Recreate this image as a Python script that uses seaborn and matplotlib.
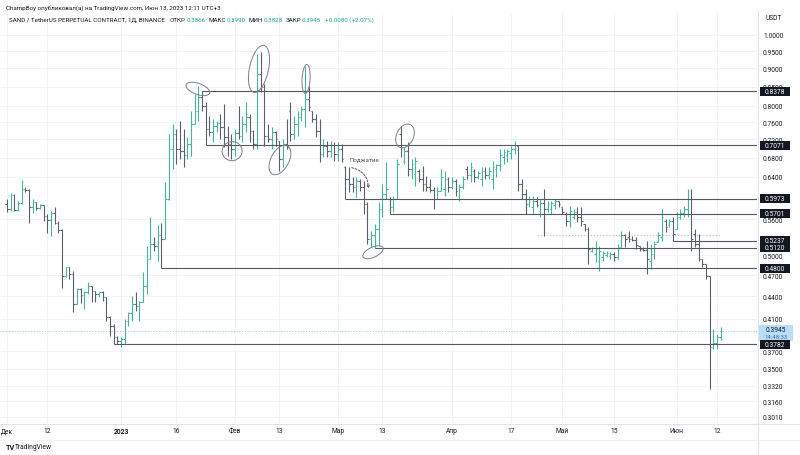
import pandas as pd
import matplotlib
matplotlib.use("Agg")
import matplotlib.pyplot as plt
import matplotlib.dates as mdates
import matplotlib.patches as mpatches
import matplotlib.transforms as mtransforms
import matplotlib.ticker as mticker
from matplotlib.lines import Line2D
import seaborn as sns

# ── DATA: SAND/USDT daily bars, 1 Dec 2022 → 13 Jun 2023 ──────────────
start_date = "2022-12-01"

open_ = [
    .588, .579, .605, .577, .590, .616, .614, .582, .592, .581,
    .586, .566, .559, .572, .554, .542, .469, .482, .472, .429,
    .450, .442, .446, .454, .447, .443, .446, .439, .412, .401,
    .387, .382, .384, .407, .417, .429, .427, .432, .454, .494,
    .518, .515, .533, .527, .597, .699, .733, .699, .694, .686,
    .710, .756, .788, .823, .800, .744, .737, .751, .758, .749,
    .726, .710, .699, .735, .728, .756, .773, .740, .710, .885,
    .849, .728, .721, .737, .717, .677, .710, .788, .733, .756,
    .773, .792, .818, .788, .768, .740, .688, .705, .694, .707,
    .688, .699, .660, .636, .626, .620, .632, .620, .588, .527,
    .533, .543, .579, .607, .597, .582, .597, .733, .673, .694,
    .656, .646, .652, .636, .626, .620, .614, .597, .612, .616,
    .636, .620, .632, .603, .620, .656, .644, .652, .640, .636,
    .652, .644, .636, .656, .664, .682, .686, .690, .699, .705,
    .626, .607, .588, .582, .593, .575, .590, .579, .579, .586,
    .593, .582, .570, .557, .565, .573, .565, .552, .543, .507,
    .502, .491, .498, .501, .499, .502, .498, .513, .533, .530,
    .527, .525, .515, .510, .508, .491, .502, .522, .530, .557,
    .550, .557, .543, .565, .572, .579, .597, .535, .518, .494,
    .487, .469, .375, .380, .3866]

high = [
    .597, .609, .607, .593, .634, .620, .616, .597, .592, .588,
    .586, .570, .575, .582, .557, .543, .482, .482, .476, .452,
    .452, .447, .460, .454, .447, .446, .447, .439, .413, .403,
    .388, .387, .409, .418, .440, .446, .433, .475, .515, .565,
    .530, .550, .554, .630, .733, .756, .744, .763, .744, .726,
    .788, .831, .852, .8378, .810, .775, .768, .763, .780, .805,
    .751, .733, .744, .800, .775, .810, .780, .742, .942, .948,
    .857, .756, .749, .740, .717, .721, .768, .810, .775, .788,
    .800, .907, .852, .788, .780, .768, .721, .717, .717, .714,
    .714, .710, .662, .660, .640, .640, .636, .632, .592, .540,
    .552, .592, .626, .671, .601, .603, .677, .751, .703, .714,
    .677, .682, .656, .662, .642, .636, .620, .620, .656, .652,
    .640, .640, .636, .626, .642, .662, .671, .656, .652, .660,
    .660, .660, .673, .667, .699, .699, .699, .705, .717, .707,
    .636, .616, .603, .603, .601, .597, .616, .593, .593, .597,
    .593, .582, .573, .584, .579, .582, .582, .552, .547, .513,
    .523, .515, .507, .507, .505, .505, .518, .540, .535, .540,
    .532, .530, .515, .513, .523, .518, .523, .538, .579, .561,
    .561, .565, .573, .579, .584, .616, .616, .543, .535, .494,
    .487, .469, .397, .391, .3990]

low = [
    .573, .575, .575, .575, .588, .610, .554, .572, .577, .579,
    .557, .537, .532, .552, .537, .452, .467, .464, .418, .429,
    .431, .423, .443, .432, .432, .439, .433, .407, .388, .378,
    .3782, .375, .378, .401, .407, .420, .407, .432, .443, .494,
    .507, .491, .480, .527, .595, .656, .667, .677, .660, .677,
    .684, .756, .763, .788, .7071, .728, .714, .737, .721, .703,
    .684, .677, .684, .721, .714, .737, .714, .699, .699, .836,
    .705, .714, .699, .705, .652, .660, .699, .717, .721, .728,
    .763, .749, .788, .761, .726, .671, .682, .682, .682, .673,
    .673, .671, .5973, .610, .610, .601, .612, .570, .518, .513,
    .512, .515, .565, .597, .5701, .573, .597, .682, .667, .642,
    .636, .622, .630, .612, .612, .610, .579, .597, .612, .603,
    .610, .616, .603, .593, .616, .636, .630, .630, .636, .622,
    .636, .636, .616, .640, .652, .667, .671, .677, .688, .612,
    .597, .570, .582, .570, .582, .565, .532, .573, .570, .579,
    .582, .570, .549, .547, .561, .556, .549, .540, .487, .505,
    .490, .476, .491, .498, .494, .491, .494, .513, .513, .522,
    .523, .510, .507, .507, .472, .479, .494, .522, .523, .538,
    .547, .5237, .543, .561, .565, .565, .507, .513, .491, .482,
    .464, .3285, .373, .373, .3828]

close = [
    .579, .605, .577, .590, .616, .614, .582, .592, .581, .586,
    .566, .559, .572, .554, .542, .469, .482, .472, .429, .450,
    .442, .446, .454, .447, .443, .446, .439, .412, .401, .387,
    .382, .384, .407, .417, .429, .427, .432, .454, .494, .518,
    .515, .533, .527, .597, .699, .733, .699, .694, .686, .710,
    .756, .788, .823, .800, .744, .737, .751, .758, .749, .726,
    .710, .699, .735, .728, .756, .773, .740, .710, .885, .849,
    .728, .721, .737, .721, .677, .710, .703, .733, .756, .773,
    .792, .818, .798, .768, .740, .688, .705, .694, .707, .688,
    .699, .677, .636, .626, .620, .632, .620, .588, .527, .533,
    .543, .579, .607, .616, .582, .597, .667, .703, .694, .656,
    .667, .673, .636, .626, .620, .614, .597, .612, .640, .636,
    .620, .632, .612, .620, .636, .644, .660, .640, .648, .652,
    .644, .652, .660, .664, .686, .692, .694, .699, .707, .626,
    .607, .588, .597, .593, .586, .590, .579, .588, .590, .593,
    .588, .573, .557, .575, .573, .565, .557, .543, .510, .512,
    .510, .507, .504, .504, .502, .498, .513, .533, .527, .527,
    .525, .517, .510, .508, .494, .502, .518, .533, .565, .547,
    .557, .535, .565, .572, .579, .597, .527, .518, .494, .487,
    .469, .375, .380, .3866, .3945]

# drawn levels: price and the day they start from
levels = [0.8378, 0.7071, 0.5973, 0.5701, 0.5237, 0.5120, 0.4800, 0.3782]
level_start = ["2023-01-23", "2023-01-24", "2023-03-03", "2023-03-15",
               "2023-05-31", "2023-03-11", "2023-01-12", "2022-12-30"]
dotted_level = 0.533
dotted_span = ["2023-04-24", "2023-06-13"]

# ticks hidden behind the level labels (0.60, 0.53, 0.39) are left out
price_ticks = [1.0, 0.95, 0.9, 0.85, 0.8, 0.76, 0.72, 0.68, 0.64, 0.56,
               0.5, 0.47, 0.44, 0.41, 0.37, 0.35, 0.332, 0.316, 0.301]
date_ticks = ["2022-12-01", "2022-12-12", "2023-01-01", "2023-01-16", "2023-02-01",
              "2023-02-13", "2023-03-01", "2023-03-13", "2023-04-01", "2023-04-17",
              "2023-05-01", "2023-05-15", "2023-06-01", "2023-06-12"]
date_labels = ["Дек", "12", "2023", "16", "Фев", "13", "Мар", "13", "Апр", "17",
               "Май", "15", "Июн", "12"]

# ── STYLE ─────────────────────────────────────────────────────────────
sns.set_theme(style="white")
plt.rcParams["font.family"] = ["Roboto", "DejaVu Sans"]

UP = "#45b49c"
DOWN = "#5b5f6a"
LEVEL = "#55585f"
TXT = "#131722"
TEAL = "#22a88f"
FS = 4.8
HFS = 4.5

W, H = 800, 456
fig = plt.figure(figsize=(W / 100, H / 100), dpi=100)
fig.patch.set_facecolor("white")
ax = fig.add_axes([0, 32 / H, 757 / W, 410 / H])
ax.set_facecolor("white")

dates = pd.date_range(start_date, periods=len(close), freq="D")
x = mdates.date2num(dates)
x0 = x[0]

ax.set_yscale("log")
ax.set_ylim(0.2952, 1.0716)
ax.set_xlim(x0 - 1.89, x0 + 203.87)

# ── OHLC BARS ─────────────────────────────────────────────────────────
cols = [UP if c >= o else DOWN for o, c in zip(open_, close)]
ax.vlines(x, low, high, colors=cols, linewidth=0.8, zorder=3)
ax.hlines(open_, x - 0.45, x, colors=cols, linewidth=0.8, zorder=3)
ax.hlines(close, x, x + 0.45, colors=cols, linewidth=0.8, zorder=3)

# ── LEVELS ────────────────────────────────────────────────────────────
xr = ax.get_xlim()[1]
for lvl, d in zip(levels, level_start):
    ax.hlines(lvl, mdates.date2num(pd.Timestamp(d)), xr, color=LEVEL,
              linewidth=0.8, zorder=4)
ax.hlines(dotted_level, mdates.date2num(pd.Timestamp(dotted_span[0])),
          mdates.date2num(pd.Timestamp(dotted_span[1])), color="#c3c5cb",
          linewidth=0.9, linestyles=(0, (1, 1.5)), zorder=2)
ax.axhline(close[-1], color="#9ccaf2", linewidth=0.8, linestyle=(0, (1, 1.5)), zorder=2)

# ── AXES ──────────────────────────────────────────────────────────────
ax.yaxis.tick_right()
ax.set_yticks(price_ticks)
ax.yaxis.set_major_formatter(mticker.FuncFormatter(lambda v, _: f"{v:.4f}"))
ax.yaxis.set_minor_locator(mticker.NullLocator())
ax.set_xticks([mdates.date2num(pd.Timestamp(d)) for d in date_ticks])
ax.set_xticklabels(date_labels)
ax.xaxis.get_ticklabels()[2].set_fontweight("bold")
ax.tick_params(axis="y", length=0, pad=4.3, labelsize=FS, colors=TXT)
ax.tick_params(axis="x", length=0, pad=3.2, labelsize=FS, colors=TXT)
ax.grid(True, color="#f2f3f7", linewidth=0.7)
ax.set_axisbelow(True)
for s in ["left", "top", "right", "bottom"]:
    ax.spines[s].set_visible(False)

fig.add_artist(Line2D([757.5 / W] * 2, [1 - 12 / H, 0.0], color="#e0e3eb", lw=0.8))
fig.add_artist(Line2D([0, 1], [1 - 424.5 / H] * 2, color="#e0e3eb", lw=0.8))
fig.add_artist(Line2D([0, 1], [1 - 440.5 / H] * 2, color="#eef0f4", lw=0.6))


def px(xv, yv):
    return ax.transData.transform((xv, yv))


# ── PRICE LABELS ON THE AXIS ──────────────────────────────────────────
cy = px(x0, close[-1])[1]
fig.add_artist(mpatches.Rectangle((759, cy - 10), 34, 16, facecolor="#b9dcf7",
                                  edgecolor="none", transform=mtransforms.IdentityTransform(),
                                  zorder=2.0))
fig.text(776 / W, (cy + 1) / H, f"{close[-1]:.4f}", ha="center", va="center",
         fontsize=FS, color=TXT, zorder=2.1)
fig.text(776 / W, (cy - 5.5) / H, "14:48:33", ha="center", va="center",
         fontsize=4.3, color="#3d6fa8", zorder=2.1)

for lvl in levels:
    ly = px(x0, lvl)[1]
    fig.add_artist(mpatches.Rectangle((760, ly - 4.5), 30, 9, facecolor=TXT,
                                      edgecolor="none",
                                      transform=mtransforms.IdentityTransform(),
                                      zorder=2.2))
    fig.text(775 / W, ly / H, f"{lvl:.4f}", ha="center", va="center",
             fontsize=FS, color="white", zorder=2.3)

fig.text(765 / W, 1 - 19 / H, "USDT", ha="left", va="center", fontsize=FS, color=TXT)

# ── HAND-DRAWN MARKUP ─────────────────────────────────────────────────
rings = [  # (day offset, price, width px, height px, angle)
    (51.9, 0.844, 25, 11, -20),
    (68.5, 0.899, 19, 48, -12),
    (81.3, 0.871, 8, 29, -3),
    (61.2, 0.694, 20, 19, 10),
    (74.2, 0.675, 18, 32, -28),
    (108.2, 0.728, 17, 25, -25),
    (99.5, 0.505, 22, 10, 25),
]
for d, p, w, h, a in rings:
    cxp, cyp = px(x0 + d, p)
    fig.add_artist(mpatches.Ellipse((cxp, cyp), w, h, angle=a, fill=False,
                                    edgecolor="#7c7f89", linewidth=0.7,
                                    transform=mtransforms.IdentityTransform(),
                                    zorder=5))

pa = px(x0 + 93.0, 0.660)
pb = px(x0 + 98.2, 0.612)
fig.add_artist(mpatches.FancyArrowPatch(pa, pb, connectionstyle="arc3,rad=-0.45",
                                        arrowstyle="->", mutation_scale=4,
                                        linestyle=(0, (2, 1.5)), linewidth=0.7,
                                        color="#50535e",
                                        transform=mtransforms.IdentityTransform(),
                                        zorder=5))
ax.text(x0 + 93.2, 0.677, "Поджатие", fontsize=4.5, color="#50535e",
        ha="left", va="center", zorder=5)

# ── HEADER / FOOTER ───────────────────────────────────────────────────
fig.text(6 / W, 1 - 8 / H,
         "ChampBoy опубликовал(а) на TradingView.com, Июн 13, 2023 12:11 UTC+3",
         fontsize=HFS, color=TXT, va="center")

header = [  # (text, colour, gap after in px)
    ("SAND / TetherUS PERPETUAL CONTRACT, 1Д, BINANCE", TXT, 5),
    ("ОТКР", TXT, 0.5), (f"{open_[-1]:.4f}", TEAL, 3),
    ("МАКС", TXT, 0.5), (f"{high[-1]:.4f}", TEAL, 3),
    ("МИН", TXT, 0.5), (f"{low[-1]:.4f}", TEAL, 3),
    ("ЗАКР", TXT, 0.5), (f"{close[-1]:.4f}", TEAL, 4),
    ("+0.0080 (+2.07%)", TEAL, 0),
]
renderer = fig.canvas.get_renderer()
xpos = 9
for s, c, gap in header:
    t = fig.text(xpos / W, 1 - 20 / H, s, fontsize=HFS, color=c, va="center")
    xpos += t.get_window_extent(renderer).width + gap

fig.text(6 / W, 1 - 448 / H, "TV", fontsize=5.2, fontweight="bold", color=TXT, va="center")
fig.text(15 / W, 1 - 448 / H, "TradingView", fontsize=FS, color=TXT, va="center")

fig.savefig("out.png", dpi=100, facecolor="white")
plt.close(fig)
